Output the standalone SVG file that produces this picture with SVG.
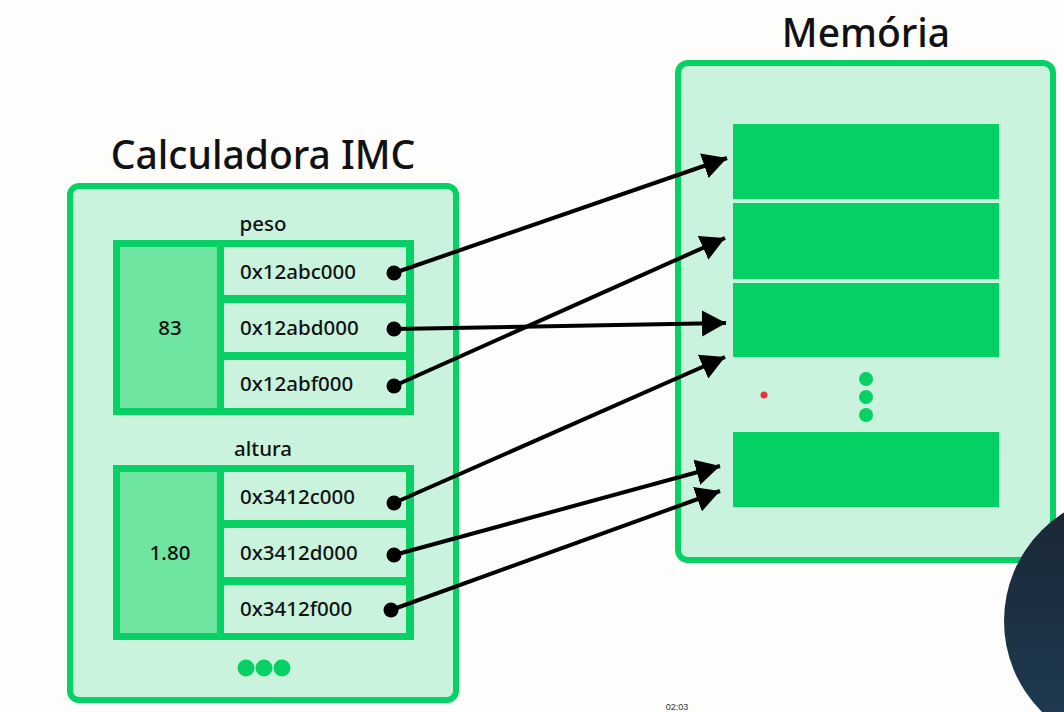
<svg xmlns="http://www.w3.org/2000/svg" width="1064" height="712" viewBox="0 0 1064 712">
<defs>
<style>
.title{font-family:"Noto Sans","Open Sans","Liberation Sans",sans-serif;font-weight:500;font-size:39px;fill:#111;text-anchor:middle}
.lbl{font-family:"Noto Sans","Open Sans","Liberation Sans",sans-serif;font-weight:500;font-size:20.5px;fill:#111}
.mid{text-anchor:middle}
.box{fill:#c9f3dc;stroke:#07d064;stroke-width:6}
.grp{fill:#07d064}
.val{fill:#6ee4a1}
.cell{fill:#c9f3dc}
.blk{fill:#05d063}
.dot{fill:#07d064}
.conn{stroke:#000;stroke-width:4;fill:none;marker-end:url(#ah)}
.src{fill:#000}
</style>
<marker id="ah" markerUnits="userSpaceOnUse" markerWidth="26" markerHeight="28" viewBox="0 0 26 28" refX="24" refY="14" orient="auto">
<path d="M0,1 L24,14 L0,27 Z" fill="#000"/>
</marker>
<linearGradient id="cam" x1="0" y1="0" x2="0" y2="1">
<stop offset="0" stop-color="#1a2533"/>
<stop offset="1" stop-color="#1f3d55"/>
</linearGradient>
</defs>
<rect width="1064" height="712" fill="#fdfdfc"/>

<g id="calculadora">
<text class="title" x="263" y="169">Calculadora IMC</text>
<rect class="box" x="70" y="186" width="386" height="514" rx="9"/>
<circle class="dot" cx="246" cy="668" r="8.5"/>
<circle class="dot" cx="264" cy="668" r="8.5"/>
<circle class="dot" cx="282" cy="668" r="8.5"/>
</g>

<g id="peso">
<text class="lbl mid" x="263" y="231">peso</text>
<rect class="grp" x="113" y="240" width="301" height="175"/>
<rect class="val" x="120" y="247" width="97" height="161"/>
<rect class="cell" x="224" y="247" width="182" height="48"/>
<rect class="cell" x="224" y="303" width="182" height="49"/>
<rect class="cell" x="224" y="360" width="182" height="48"/>
<text class="lbl mid" x="170" y="335">83</text>
<text class="lbl" x="240" y="279">0x12abc000</text>
<text class="lbl" x="240" y="335">0x12abd000</text>
<text class="lbl" x="240" y="391">0x12abf000</text>
</g>

<g id="altura">
<text class="lbl mid" x="263" y="456">altura</text>
<rect class="grp" x="113" y="465" width="301" height="175"/>
<rect class="val" x="120" y="472" width="97" height="161"/>
<rect class="cell" x="224" y="472" width="182" height="48"/>
<rect class="cell" x="224" y="528" width="182" height="49"/>
<rect class="cell" x="224" y="585" width="182" height="48"/>
<text class="lbl mid" x="170" y="560">1.80</text>
<text class="lbl" x="240" y="504">0x3412c000</text>
<text class="lbl" x="240" y="560">0x3412d000</text>
<text class="lbl" x="240" y="616">0x3412f000</text>
</g>

<g id="memoria">
<text class="title" x="866" y="47">Memória</text>
<rect class="box" x="678" y="63" width="375" height="497" rx="10"/>
<rect class="blk" x="733" y="124" width="266" height="75"/>
<rect class="blk" x="733" y="203" width="266" height="76"/>
<rect class="blk" x="733" y="283" width="266" height="74"/>
<rect class="blk" x="733" y="432" width="266" height="75"/>
<circle class="dot" cx="866" cy="379" r="7"/>
<circle class="dot" cx="866" cy="397" r="7"/>
<circle class="dot" cx="866" cy="415" r="7"/>
</g>

<g id="connectors">
<line class="conn" x1="394" y1="273" x2="727" y2="158"/>
<line class="conn" x1="394" y1="329" x2="726" y2="323"/>
<line class="conn" x1="394" y1="386" x2="725" y2="238"/>
<line class="conn" x1="394" y1="503" x2="725" y2="357"/>
<line class="conn" x1="394" y1="555" x2="720" y2="466"/>
<line class="conn" x1="391" y1="610" x2="720" y2="491"/>
<circle class="src" cx="394" cy="273" r="7.5"/>
<circle class="src" cx="394" cy="329" r="7.5"/>
<circle class="src" cx="394" cy="386" r="7.5"/>
<circle class="src" cx="394" cy="503" r="7.5"/>
<circle class="src" cx="394" cy="555" r="7.5"/>
<circle class="src" cx="391" cy="610" r="7.5"/>
</g>

<circle cx="764" cy="395" r="3.5" fill="#f0303c"/>
<circle cx="1132" cy="621" r="128" fill="url(#cam)"/>
<text x="677" y="710" font-family="Liberation Sans, sans-serif" font-size="9" fill="#333" text-anchor="middle">02:03</text>
</svg>
